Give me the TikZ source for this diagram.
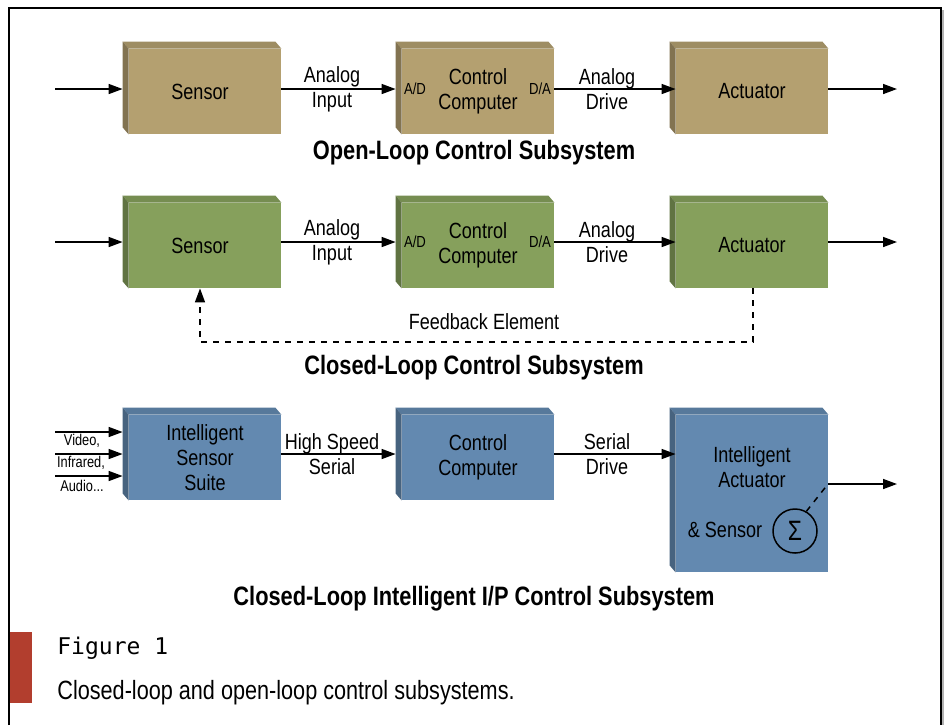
\documentclass[tikz,border=0pt]{standalone}
\usepackage{fontspec}
\setmainfont{Liberation Sans}[FakeStretch=0.82]
\newfontfamily\figfont{DejaVu Sans Mono}
\usetikzlibrary{arrows.meta,calc}

\definecolor{tanfront}{RGB}{180,160,112}
\definecolor{greenfront}{RGB}{134,160,92}
\definecolor{bluefront}{RGB}{99,137,176}
\definecolor{figred}{RGB}{178,62,46}

% side and top faces of a block
\newcommand\boxsides[2]{%
  \fill[#2!88!black] (#1.north west) -- ++(-6,-7) -- ($(#1.north east)+(-6,-7)$) -- (#1.north east) -- cycle;
  \fill[#2!72!black] (#1.north west) -- ++(-6,-7) -- ($(#1.south west)+(-6,-7)$) -- (#1.south west) -- cycle;
}

\tikzset{
  block/.style={minimum width=76pt, minimum height=42.5pt, inner sep=0pt, align=center,
    font=\fontsize{11}{12.5}\selectfont},
  tanbox/.style={block, fill=tanfront},
  greenbox/.style={block, fill=greenfront},
  bluebox/.style={block, fill=bluefront},
  lbl/.style={align=center, font=\fontsize{11}{12.5}\selectfont},
  conv/.style={font=\fontsize{8}{9}\selectfont},
  small/.style={font=\fontsize{7.8}{9}\selectfont},
  title/.style={font=\fontsize{13.3}{15}\selectfont\bfseries},
  arr/.style={line width=0.75pt, -{Triangle[length=7pt,width=5pt]}},
  fb/.style={arr, dashed},
}

\begin{document}
\begin{tikzpicture}[x=0.5pt, y=-0.5pt]
	\useasboundingbox (0,0) rectangle (945,725);
	\draw[line width=1pt] (9,725) -- (9,8) -- (941,8) -- (941,725);
	\draw[gray!60, line width=0.6pt] (943,10) -- (943,725);
	
	% open loop
	\node[tanbox] (s1) at (205,91.5) {Sensor\hspace*{5pt}};
	\node[tanbox] (c1) at (478,91.5) {Control\\Computer};
	\node[tanbox] (a1) at (752,91.5) {Actuator};
	\boxsides{s1}{tanfront}
	\boxsides{c1}{tanfront}
	\boxsides{a1}{tanfront}
	\node[conv] at (415,89) {A/D};
	\node[conv] at (540,89) {D/A};
	\coordinate (in1) at (55,89);
	\coordinate (out1) at (897,89);
	\draw[arr, shorten >=3pt] (in1) -- (in1 -| s1.west);
	\draw[arr, shorten >=3pt] (s1.east |- in1) -- (c1.west |- in1);
	\draw[arr] (c1.east |- in1) -- (a1.west |- in1);
	\draw[arr] (a1.east |- in1) -- (out1);
	\node[lbl] at (332,89) {Analog\\Input};
	\node[lbl] at (607,89) {Analog\\Drive};
	\node[title] at (474,153) {Open-Loop Control Subsystem};
	
	% closed loop
	\node[greenbox] (s2) at (205,245.5) {Sensor\hspace*{5pt}};
	\node[greenbox] (c2) at (478,245.5) {Control\\Computer};
	\node[greenbox] (a2) at (752,245.5) {Actuator};
	\boxsides{s2}{greenfront}
	\boxsides{c2}{greenfront}
	\boxsides{a2}{greenfront}
	\node[conv] at (415,242) {A/D};
	\node[conv] at (540,242) {D/A};
	\coordinate (in2) at (55,242);
	\coordinate (out2) at (897,242);
	\draw[arr, shorten >=3pt] (in2) -- (in2 -| s2.west);
	\draw[arr, shorten >=3pt] (s2.east |- in2) -- (c2.west |- in2);
	\draw[arr] (c2.east |- in2) -- (a2.west |- in2);
	\draw[arr] (a2.east |- in2) -- (out2);
	\node[lbl] at (332,242) {Analog\\Input};
	\node[lbl] at (607,242) {Analog\\Drive};
	\coordinate (fbl) at (200,342);
	\draw[fb] ([xshift=0.5pt]a2.south) |- (fbl) -- (fbl |- s2.south);
	\node[lbl] at (484,322) {Feedback Element};
	\node[title] at (474,368) {Closed-Loop Control Subsystem};
	
	% intelligent loop
	\node[bluebox] (s3) at (205,457.5) {Intelligent\\Sensor\\Suite};
	\node[bluebox] (c3) at (478,457.5) {Control\\Computer};
	\node[bluebox, minimum height=78.5pt] (a3) at (752,493.5) {};
	\boxsides{s3}{bluefront}
	\boxsides{c3}{bluefront}
	\boxsides{a3}{bluefront}
	\node[lbl] at (752,467) {Intelligent\\Actuator};
	\node[lbl] at (725,530) {\& Sensor};
	\node[circle, draw, line width=0.75pt, minimum size=22pt, inner sep=0pt,
	  font=\fontsize{14}{14}\selectfont] (sig) at (795,531) {Σ};
	\coordinate (v3) at (55,432);
	\coordinate (r3) at (55,454);
	\coordinate (u3) at (55,476);
	\foreach \c in {v3,r3,u3}
		\draw[arr, shorten >=3pt] (\c) -- (\c -| s3.west);
	\node[small] at (82,441) {Video,};
	\node[small] at (81,463) {Infrared,};
	\node[small] at (82,486) {Audio...};
	\draw[arr, shorten >=3pt] (s3.east |- r3) -- (c3.west |- r3);
	\draw[arr] (c3.east |- r3) -- (a3.west |- r3);
	\node[lbl] at (332,454) {High Speed\\Serial};
	\node[lbl] at (607,454) {Serial\\Drive};
	\coordinate (ao) at (828,484);
	\coordinate (out3) at (897,484);
	\draw[dashed, line width=0.75pt] (sig.60) -- (ao);
	\draw[arr] (ao) -- (out3);
	\node[title] at (474,599) {Closed-Loop Intelligent I/P Control Subsystem};
	
	% caption
	\fill[figred] (10,632) rectangle (32,703);
	\node[anchor=west, inner sep=0pt, font=\figfont\fontsize{11.5}{13}\selectfont] at (57,648) {Figure 1};
	\node[anchor=west, inner sep=0pt, font=\fontsize{13.2}{15}\selectfont] at (57,693) {Closed-loop and open-loop control subsystems.};
\end{tikzpicture}
\end{document}
